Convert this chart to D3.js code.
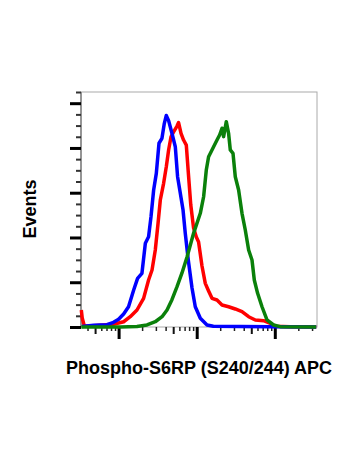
<!DOCTYPE html>
<html>
<head>
<meta charset="utf-8">
<script src="https://cdn.jsdelivr.net/npm/d3@7"></script>
<style>
  body { margin: 0; background: #fff; }
  svg { display: block; }
  .lbl { font-family: "Liberation Sans", Arial, sans-serif; font-weight: bold; font-size: 18px; fill: #000; }
</style>
</head>
<body>
<svg id="chart" width="350" height="467"></svg>
<script>
// intensity (APC) vs events
const blueData = [
  [34, 0.4], [48, 1.5], [71, 2.1], [86, 4.2], [100, 6.9], [116, 11.6], [134, 18.1],
  [156, 33.1], [175, 43.5], [199, 48], [220, 74.8], [242, 80.7], [260, 98.6],
  [281, 122.4], [304, 137.3], [329, 164.2], [359, 168.6], [385, 182], [408, 189],
  [437, 184.4], [482, 173.1], [532, 161.1], [569, 134.3], [607, 122.4], [668, 104.8],
  [714, 83.7], [780, 59.9], [871, 34.9], [959, 18.1], [1112, 7.8], [1355, 1.8],
  [1631, 0.6], [3614, 0.4], [8750, 0.3], [33900, 0]
];
const redData = [
  [33.3, 15.2], [34.2, 8], [36.4, 0.9], [48, 1.1], [86, 2.4], [116, 4.7], [141, 9.2],
  [172, 15.2], [209, 25.6], [242, 42], [268, 50.9], [295, 68.8], [320, 92.7],
  [342, 113.5], [377, 128.4], [408, 143.2], [437, 158.2], [469, 170], [506, 174.3],
  [560, 179.6], [586, 182.7], [630, 173.1], [679, 167.1], [736, 162.6], [780, 138.5],
  [840, 109], [912, 88.5], [989, 80.4], [1057, 76], [1169, 54.5], [1288, 39],
  [1420, 32.2], [1570, 25.6], [1820, 24.1], [2109, 19.7], [2560, 18.1], [3119, 16.1],
  [3802, 13.7], [4624, 9.2], [5628, 6.3], [7193, 5.6], [8750, 3.3], [10140, 0.6],
  [15780, 0.2], [33900, 0]
];
const greenData = [
  [33.3, 0], [105, 0], [172, 0.4], [231, 1.8], [295, 4.7], [360, 9.2], [417, 15.2],
  [482, 24.4], [560, 36], [648, 48.3], [752, 62.6], [912, 83.7], [1112, 101.6],
  [1226, 116.4], [1327, 140.3], [1420, 152.2], [1570, 158.2], [1646, 161.1],
  [1820, 167.1], [1965, 171.6], [2109, 177.6], [2210, 170.1], [2393, 183.5],
  [2560, 173.1], [2692, 158.2], [2917, 155.2], [3119, 134.3], [3441, 122.4],
  [3802, 101.6], [4188, 86.7], [4624, 68.8], [5106, 59.9], [5464, 42], [6026, 30.1],
  [6859, 18.1], [7943, 6.3], [9652, 1.8], [11750, 0.3], [33900, 0]
];
const seriesColors = ['#0000ff', '#ff0000', '#0a800a'];
const xLabel = 'Phospho-S6RP (S240/244) APC';
const yLabel = 'Events';
const yMajorStep = 40;
const yMinorStep = 10;

let svg = d3.select('#chart');
let plotLeft = 81, plotRight = 317, plotTop = 92, plotBottom = 327;

let x = d3.scaleLog().domain([33, 34700]).range([plotLeft, plotRight]);
let y = d3.scaleLinear().domain([0, 210]).range([plotBottom, plotTop]);

// frame
svg.append('rect')
    .attr('x', plotLeft).attr('y', plotTop)
    .attr('width', plotRight - plotLeft).attr('height', plotBottom - plotTop)
    .attr('fill', 'none').attr('stroke', '#aaa').attr('stroke-width', 1);
svg.append('line')
    .attr('x1', plotLeft).attr('x2', plotLeft).attr('y1', plotTop).attr('y2', plotBottom)
    .attr('stroke', '#808080').attr('stroke-width', 1.5);

// y ticks
let yTicks = d3.range(0, 211, yMinorStep);
let yMinor = yTicks.filter(v => v % yMajorStep !== 0);
let yMajor = yTicks.filter(v => v % yMajorStep === 0);

function drawAxis(axis, tx, ty, width, color) {
    let g = svg.append('g').attr('transform', 'translate(' + tx + ',' + ty + ')').call(axis);
    g.select('.domain').remove();
    g.selectAll('.tick line').attr('stroke', color).attr('stroke-width', width);
    g.selectAll('.tick text').remove();
    return g;
}
drawAxis(d3.axisLeft(y).tickValues(yMinor).tickSize(5).tickFormat(''), plotLeft, 0, 2, '#333');
drawAxis(d3.axisLeft(y).tickValues(yMajor).tickSize(11).tickFormat(''), plotLeft, 0, 3, '#000');

// x ticks (log decades)
let xAll = [];
for (let d = 1; d <= 4; d++) {
    for (let m = 1; m <= 9; m++) {
        let v = m * Math.pow(10, d);
        if (v >= 33 && v <= 34700) xAll.push({v: v, m: m});
    }
}
let xMajor = xAll.filter(t => t.m === 1).map(t => t.v);
let xMid = xAll.filter(t => t.m === 5).map(t => t.v);
let xMinor = xAll.filter(t => t.m !== 1 && t.m !== 5).map(t => t.v);
drawAxis(d3.axisBottom(x).tickValues(xMinor).tickSize(4).tickFormat(''), 0, plotBottom, 1.5, '#222');
drawAxis(d3.axisBottom(x).tickValues(xMid).tickSize(7).tickFormat(''), 0, plotBottom, 2, '#111');
drawAxis(d3.axisBottom(x).tickValues(xMajor).tickSize(12).tickFormat(''), 0, plotBottom, 3, '#000');

// curves
let line = d3.line()
    .x(d => x(d[0]))
    .y(d => y(d[1]));

[redData, blueData, greenData].forEach((data, i) => {
    let color = [seriesColors[1], seriesColors[0], seriesColors[2]][i];
    svg.append('path')
        .datum(data)
        .attr('d', line)
        .attr('fill', 'none')
        .attr('stroke', color)
        .attr('stroke-width', 3.5)
        .attr('stroke-linejoin', 'round');
});

// labels
svg.append('text')
    .attr('class', 'lbl')
    .attr('x', 199).attr('y', 374)
    .attr('text-anchor', 'middle')
    .text(xLabel);
svg.append('text')
    .attr('class', 'lbl')
    .attr('transform', 'translate(36,209) rotate(-90)')
    .attr('text-anchor', 'middle')
    .text(yLabel);
</script>
</body>
</html>
